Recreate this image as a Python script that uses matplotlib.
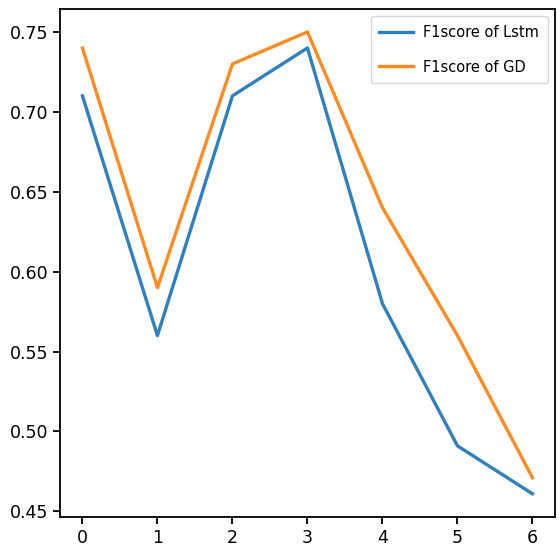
import matplotlib
matplotlib.use("Agg")
import matplotlib.pyplot as plt

epochs = [0, 1, 2, 3, 4, 5, 6]
f1_lstm = [0.71, 0.56, 0.71, 0.74, 0.58, 0.491, 0.461]
f1_gd = [0.74, 0.59, 0.73, 0.75, 0.64, 0.56, 0.471]

fig = plt.figure(figsize=(5.6, 5.54), dpi=100)
ax = fig.add_axes([0.107, 0.067, 0.884, 0.917])
ax.plot(epochs, f1_lstm, color='#2f80c0', linewidth=2.4, label='F1score of Lstm')
ax.plot(epochs, f1_gd, color='#ff8a1f', linewidth=2.4, label='F1score of GD')
ax.set_yticks([0.45, 0.50, 0.55, 0.60, 0.65, 0.70, 0.75])
ax.tick_params(labelsize=12.5, width=1.3, length=5)
for s in ax.spines.values():
    s.set_linewidth(1.3)
ax.legend(loc='upper right', fontsize=10.5, handlelength=2.3, handletextpad=0.7,
          labelspacing=1.35, borderpad=0.6, borderaxespad=0.5)

fig.savefig("out.png")
